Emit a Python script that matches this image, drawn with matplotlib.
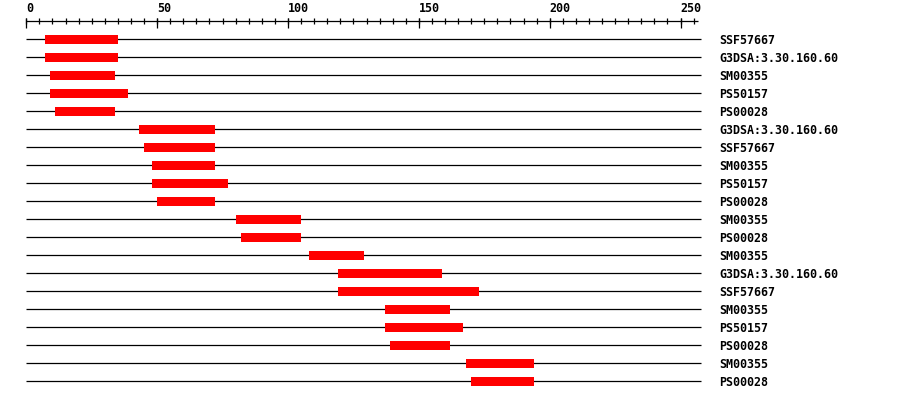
"""Domain hits drawn along the protein sequence, one track per hit."""

import matplotlib

matplotlib.use("Agg")
import matplotlib.pyplot as plt
import numpy as np

SEQ_LENGTH = 258

LABELS = [
    "SSF57667", "G3DSA:3.30.160.60", "SM00355", "PS50157", "PS00028",
    "G3DSA:3.30.160.60", "SSF57667", "SM00355", "PS50157", "PS00028",
    "SM00355", "PS00028", "SM00355", "G3DSA:3.30.160.60", "SSF57667",
    "SM00355", "PS50157", "PS00028", "SM00355", "PS00028",
]
STARTS = [7, 7, 9, 9, 11, 43, 45, 48, 48, 50,
          80, 82, 108, 119, 119, 137, 137, 139, 168, 170]
ENDS = [35, 35, 34, 39, 34, 72, 72, 72, 77, 72,
        105, 105, 129, 159, 173, 162, 167, 162, 194, 194]

MAJOR_TICKS = [0, 50, 100, 150, 200, 250]

FONT = dict(family="DejaVu Sans Mono", fontweight="bold", fontsize=8.4)

fig = plt.figure(figsize=(9, 4), dpi=100)
ax = fig.add_axes([0, 0, 1, 1])
# x in residues, y in pixel rows (top = 0)
px_per_res = 2.617
x0 = 26.3
ax.set_xlim(-x0 / px_per_res, (900 - x0) / px_per_res)
ax.set_ylim(400, 0)
ax.axis("off")

# ruler
axis_y = 21.3
ax.hlines(axis_y, 0, SEQ_LENGTH - 1.5, color="black", lw=0.9)
minor = np.arange(0, SEQ_LENGTH - 1, 5)
ax.vlines(minor, axis_y - 3, axis_y + 3, color="black", lw=0.9)
ax.vlines(MAJOR_TICKS, axis_y - 3, axis_y + 7, color="black", lw=0.9)
for tick in MAJOR_TICKS:
    ax.text(tick, 8.8, str(tick), ha="left", va="center", **FONT)

# one track per domain hit
row_y = 39 + 18 * np.arange(len(LABELS))
ax.hlines(row_y, 0, SEQ_LENGTH, color="black", lw=0.9, zorder=1)
ax.barh(row_y, np.array(ENDS) - np.array(STARTS), left=STARTS,
        height=9, color="#ff0000", edgecolor="none", zorder=2)
for y, label in zip(row_y, LABELS):
    ax.text(264.7, y + 1.0, label, ha="left", va="center", **FONT)

fig.savefig("out.png", dpi=100)
